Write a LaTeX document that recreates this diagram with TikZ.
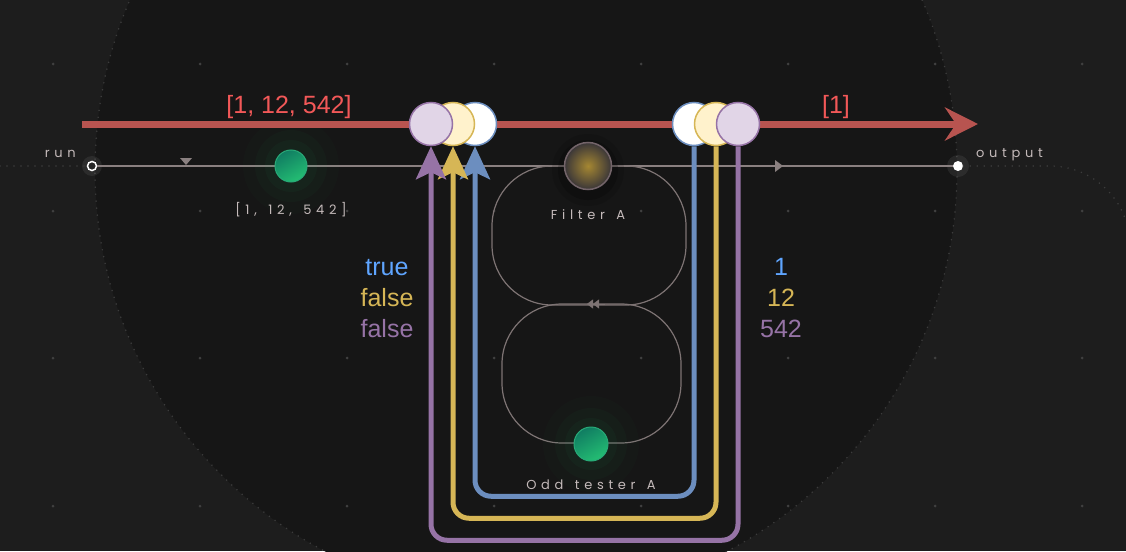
\documentclass[tikz,border=0pt]{standalone}
\usepackage{fontspec}
\setmainfont{Liberation Sans}
\newfontfamily\tagfont[LetterSpace=36,WordSpace=1.4]{Poppins}
\usetikzlibrary{arrows.meta}
\usetikzlibrary{positioning}
\definecolor{bgOuter}{RGB}{29,29,29}
\definecolor{bgInner}{RGB}{22,22,22}
\definecolor{rimDot}{RGB}{60,60,60}
\definecolor{gridDot}{RGB}{64,64,64}
\definecolor{runGray}{RGB}{138,128,128}
\definecolor{loopGray}{RGB}{125,115,115}
\definecolor{tagGray}{RGB}{196,186,186}
\definecolor{redLine}{RGB}{184,84,80}
\definecolor{redText}{RGB}{242,88,88}
\definecolor{blueLine}{RGB}{108,142,191}
\definecolor{yellowLine}{RGB}{214,182,86}
\definecolor{purpleLine}{RGB}{150,115,166}
\definecolor{yellowFill}{RGB}{255,242,204}
\definecolor{purpleFill}{RGB}{225,213,231}
\definecolor{blueText}{RGB}{95,165,255}
\definecolor{greenDark}{RGB}{16,125,98}
\definecolor{greenLight}{RGB}{36,190,115}
\definecolor{greenRim}{RGB}{40,170,120}
\definecolor{gold}{RGB}{165,135,50}
\definecolor{ballDark}{RGB}{58,54,56}
\definecolor{ballRim}{RGB}{115,100,105}
\tikzset{port/.style={circle,minimum size=43pt,inner sep=0pt,line width=1.5pt},
         bluePort/.style={port,draw=blueLine,fill=white},
         yellowPort/.style={port,draw=yellowLine,fill=yellowFill},
         purplePort/.style={port,draw=purpleLine,fill=purpleFill},
         flow/.style={line width=5pt,rounded corners=16pt,-{Stealth[length=33pt,width=30pt,inset=7pt]}},
         stream/.style={draw=redLine,line width=7pt,-{Stealth[length=33pt,width=33pt,inset=11pt]}},
         loopline/.style={draw=loopGray,line width=1.2pt,rounded corners=60pt},
         rimline/.style={draw=rimDot,line width=1.7pt,line cap=round,dash pattern=on 0pt off 7pt},
         tag/.style={font=\tagfont\fontsize{13}{15}\selectfont,text=tagGray,inner sep=0pt},
         value/.style={font=\fontsize{25}{28}\selectfont,inner sep=0pt,anchor=base},
         token/.style={circle,minimum size=32pt,inner sep=0pt,line width=1pt,draw=greenRim,
                       top color=greenDark,bottom color=greenLight,shading angle=30},
         }

\begin{document}
\begin{tikzpicture}[x=1pt,y=-1pt]
\useasboundingbox (0,0) rectangle (1126,551);
\fill[bgOuter] (0,0) rectangle (1126,551);
\begin{scope}
  \clip (0,0) rectangle (1126,551);
  \fill[bgInner] (526,170) circle (431);
  \draw[rimline] (526,170) circle (431);
  \foreach \gx in {53,200,...,1083}
    \foreach \gy in {64,211,358,506}
      \fill[gridDot] (\gx,\gy) circle (1.5);
\end{scope}

% run line
\node[circle,minimum size=9pt,inner sep=0pt,draw=white,line width=1.5pt,fill=bgInner] (run) at (92,166) {};
\node[circle,minimum size=10pt,inner sep=0pt,fill=white] (out) at (958,166) {};
\fill[white,opacity=0.07] (run) circle (10);
\fill[white,opacity=0.07] (out) circle (11);
\draw[rimline] (0,166) -- (run.west);
\draw[rimline] (out.east) -- (1050,166) arc[start angle=270,end angle=360,radius=80];
\draw[runGray,line width=1.5pt] (run) -- (out);
\fill[runGray] (180,158) -- (192,158) -- (186,165) -- cycle;
\fill[runGray] (775,160) -- (783,166) -- (775,172) -- cycle;
\node[tag,anchor=base east] (runTag) at (76,157) {run};
\node[tag,anchor=base west] (outTag) at (976,157) {output};

% filter loops
\draw[loopline] (492,166) rectangle (686,305);
\draw[loopline] (502,304) rectangle (681,443);
\draw[loopGray,-{Triangle[length=6pt,width=9pt]Triangle[length=6pt,width=9pt]}] (605,304) -- (587,304);

% balls
\coordinate (tokenPos) at (291,166);
\coordinate (filterPos) at (588,166);
\coordinate (testerPos) at (591,444);
\foreach \r/\o in {48/0.02,36/0.03,26/0.045}
  \fill[greenLight,opacity=\o] (tokenPos) circle (\r);
\foreach \r/\o in {48/0.02,36/0.03,26/0.045}
  \fill[greenLight,opacity=\o] (testerPos) circle (\r);
\foreach \r/\o in {36/0.12,30/0.2}
  \fill[black,opacity=\o] ([yshift=-4pt]filterPos) circle (\r);
\node[token] (token) at (tokenPos) {};
\node[token,minimum size=34pt] (tester) at (testerPos) {};
\node[circle,minimum size=47pt,inner sep=0pt,draw=ballRim,line width=1.5pt,
      inner color=gold,outer color=ballDark] (filter) at (filterPos) {};
\node[tag,below=20pt of token] (tokenTag) {[1, 12, 542]};
\node[tag,below=19pt of filter] (filterTag) {Filter A};
\node[tag,below=18pt of tester] (testerTag) {Odd tester A};

% stream
\coordinate (streamStart) at (82,124);
\coordinate (streamEnd) at (978,124);
\draw[stream] (streamStart) -- (streamEnd);
\node[value,text=redText] (inLabel) at (289,113) {[1, 12, 542]};
\node[value,text=redText] (outLabel) at (836,113) {[1]};

\node[bluePort] (inBlue) at (475,124) {};
\node[yellowPort] (inYellow) at (453,124) {};
\node[purplePort] (inPurple) at (431,124) {};
\node[bluePort] (outBlue) at (694,124) {};
\node[yellowPort] (outYellow) at (716,124) {};
\node[purplePort] (outPurple) at (738,124) {};

% item flows
\draw[flow,blueLine] (outBlue.south) -- ++(0,350) -| (inBlue.south);
\draw[flow,yellowLine] (outYellow.south) -- ++(0,372) -| (inYellow.south);
\draw[flow,purpleLine] (outPurple.south) -- ++(0,394) -| (inPurple.south);

\node[value,text=blueText] (testTrue) at (387,275) {true};
\node[value,text=yellowLine] (testFalseA) at (387,306) {false};
\node[value,text=purpleLine] (testFalseB) at (387,337) {false};
\node[value,text=blueText] (itemA) at (781,275) {1};
\node[value,text=yellowLine] (itemB) at (781,306) {12};
\node[value,text=purpleLine] (itemC) at (781,337) {542};
\end{tikzpicture}
\end{document}
